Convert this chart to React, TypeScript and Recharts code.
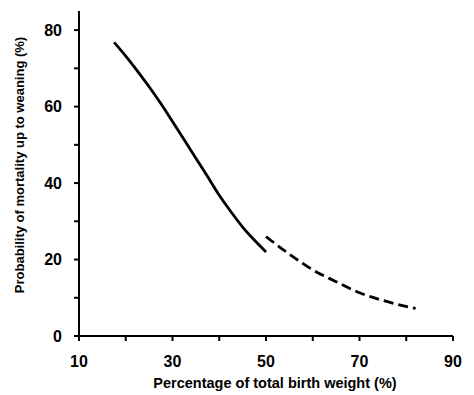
import React from 'react';
import { LineChart, Line, XAxis, YAxis } from 'recharts';

// observed range (solid) and extrapolated range (dashed)
const solidX = [17.5, 20, 22.5, 25, 27.5, 30, 32.5, 35, 37.5, 40, 42.5, 45, 47.5, 50];
const solidY = [76.8, 73.2, 69.3, 65.2, 60.8, 56.1, 51.3, 46.5, 41.7, 36.8, 32.5, 28.5, 25.1, 22];
const dashedX = [50, 55, 60, 65, 70, 75, 82];
const dashedY = [26, 21.4, 17.3, 14.2, 11.3, 9.3, 7.2];

const xTicks = [10, 20, 30, 40, 50, 60, 70, 80, 90];
const xLabels = [10, 30, 50, 70, 90];
const yTicks = [0, 10, 20, 30, 40, 50, 60, 70, 80];
const yLabels = [0, 20, 40, 60, 80];

const solidData = solidX.map((x, i) => ({ x, y: solidY[i] }));
const dashedData = dashedX.map((x, i) => ({ x, y: dashedY[i] }));

const font = 'Liberation Sans, Arial, sans-serif';
const tickStyle = { fontSize: 16, fontWeight: 700, fill: '#000', fontFamily: font };

const XLabel = () => (
  <text
    x={275}
    y={383}
    textAnchor="middle"
    dominantBaseline="central"
    style={{ fontSize: 14.5, fontWeight: 700, fontFamily: font }}
  >
    Percentage of total birth weight (%)
  </text>
);

const YLabel = () => (
  <text
    x={19}
    y={165}
    transform="rotate(-90 19 165)"
    textAnchor="middle"
    dominantBaseline="central"
    style={{ fontSize: 13, fontWeight: 700, fontFamily: font }}
  >
    Probability of mortality up to weaning (%)
  </text>
);

export default function App() {
  return (
    <div style={{ position: 'absolute', left: 0, top: 0, background: '#fff' }}>
      <LineChart width={474} height={395} margin={{ top: 11, right: 21, left: 0, bottom: 0 }}>
        <XAxis
          type="number"
          dataKey="x"
          domain={[10, 90]}
          ticks={xTicks}
          interval={0}
          height={59}
          tickSize={5}
          tickMargin={15}
          stroke="#000"
          axisLine={{ strokeWidth: 2 }}
          tickLine={{ strokeWidth: 2 }}
          tick={tickStyle}
          tickFormatter={(v: number) => (xLabels.includes(v) ? String(v) : '')}
          label={{ content: XLabel }}
        />
        <YAxis
          type="number"
          dataKey="y"
          domain={[0, 85]}
          ticks={yTicks}
          interval={0}
          width={79}
          tickSize={5}
          tickMargin={12}
          stroke="#000"
          axisLine={{ strokeWidth: 2 }}
          tickLine={{ strokeWidth: 2 }}
          tick={tickStyle}
          tickFormatter={(v: number) => (yLabels.includes(v) ? String(v) : '')}
          label={{ content: YLabel }}
        />
        <Line
          data={solidData}
          dataKey="y"
          type="monotone"
          stroke="#000"
          strokeWidth={2.8}
          dot={false}
          isAnimationActive={false}
        />
        <Line
          data={dashedData}
          dataKey="y"
          type="monotone"
          stroke="#000"
          strokeWidth={2.8}
          strokeDasharray="10 5"
          dot={false}
          isAnimationActive={false}
        />
      </LineChart>
    </div>
  );
}
